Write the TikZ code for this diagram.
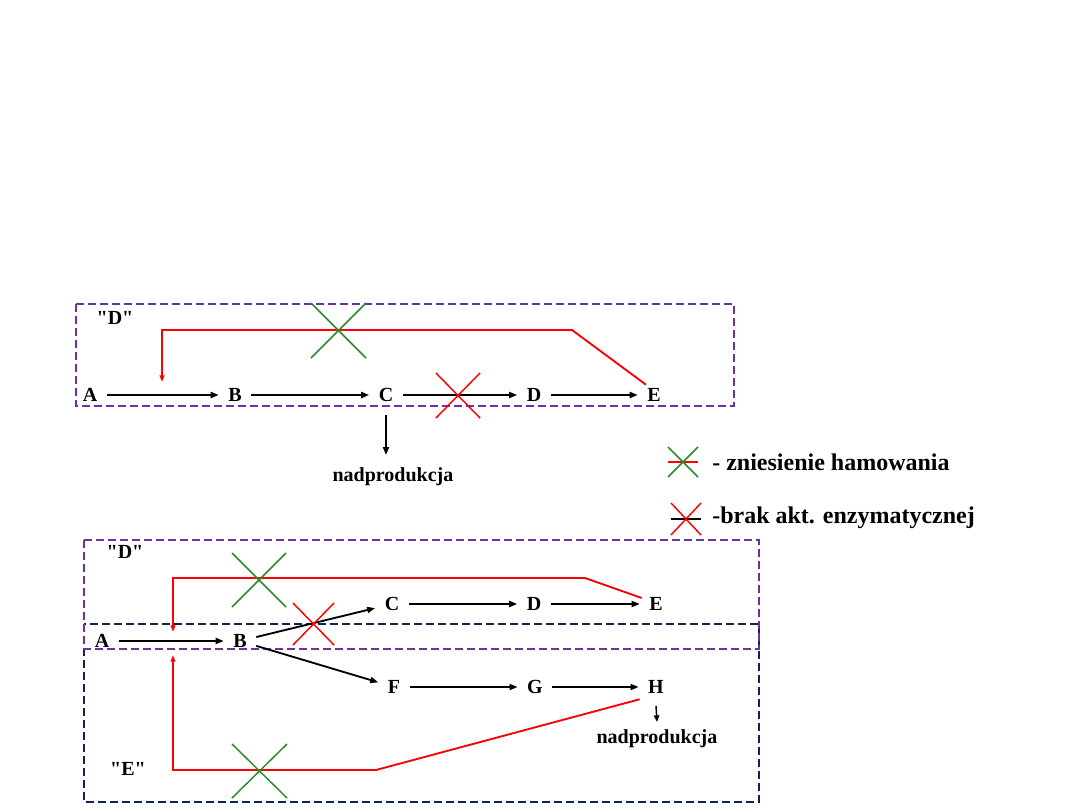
\documentclass[tikz,border=0pt]{standalone}
\usepackage{fontspec}
\setmainfont{Liberation Serif}[Ligatures=TeXOff]
\usetikzlibrary{arrows.meta,calc}
\definecolor{dpurple}{HTML}{7030A0}
\definecolor{dnavy}{HTML}{0F2358}
\definecolor{xgreen}{HTML}{2A8C2A}
\begin{document}
\begin{tikzpicture}[x=0.75pt,y=-0.75pt,
  lab/.style={font=\fontsize{15}{18}\selectfont\bfseries, inner xsep=7pt, inner ysep=1pt, text height=10pt, text depth=0pt},
  txt/.style={font=\fontsize{15}{18}\selectfont\bfseries, inner sep=0pt},
  legtxt/.style={font=\fontsize{18}{21}\selectfont\bfseries, inner sep=0pt, anchor=west},
  arr/.style={line width=1.4pt, -{Triangle[length=6pt,width=4.5pt]}},
  inh/.style={red, line width=1.4pt},
  inharr/.style={inh, -{Triangle[length=5pt,width=3.5pt]}},
  gx/.style={xgreen, line width=1.1pt},
  rx/.style={red, line width=1.1pt},
  boxp/.style={dpurple, dash pattern=on 6pt off 3pt, line width=1.2pt},
  boxn/.style={dnavy, dash pattern=on 6pt off 3pt, line width=1.2pt}]
\fill[white] (0,0) rectangle (1080,810);
\useasboundingbox (0,0) rectangle (1080,810);

% ---------- top diagram ----------
\draw[boxp] (76,304) rectangle (734,406);
\node[txt] (dlab1) at (115,318) {"D"};
\node[lab] (a1) at (90,395) {A};
\node[lab] (b1) at (235,395) {B};
\node[lab] (c1) at (386,395) {C};
\node[lab] (d1) at (534,395) {D};
\node[lab] (e1) at (654,395) {E};
\draw[arr] (a1) -- (b1);
\draw[arr] (b1) -- (c1);
\draw[arr] (c1) -- (d1);
\draw[arr] (d1) -- (e1);
\coordinate (fb1) at (162,382);
\draw[inharr] ($(e1.north)+(-8,-2)$) -- (572,330) -- (162,330) -- (fb1);
\draw[gx] (311,303) -- (366,358) (366,303) -- (311,358);
\draw[rx] (436,373) -- (480,418) (480,373) -- (436,418);
\node[txt] (np1) at (393,477) {nadprodukcja};
\coordinate (cd) at (386,455);
\draw[arr] ([yshift=-9pt]c1.south) -- (cd);

% ---------- legend ----------
\draw[inh, line width=1.2pt] (668,462) -- (698,462);
\draw[gx] (668,447) -- (698,477) (698,447) -- (668,477);
\node[legtxt] (leg1) at (712,462) {- zniesienie hamowania};
\draw[line width=1.2pt] (671,519) -- (701,519);
\draw[rx] (671,503) -- (701,535) (701,503) -- (671,535);
\node[legtxt] (leg2) at (712,518) {-brak akt. enzymatycznej};

% ---------- bottom diagram ----------
\draw[boxn] (84,624) rectangle (759,802);
\draw[boxp] (84,540) rectangle (759,649);
\node[txt] (dlab2) at (125,552) {"D"};
\node[txt] (elab2) at (128,769) {"E"};
\node[lab] (a2) at (102,641) {A};
\node[lab] (b2) at (240,641) {B};
\node[lab] (c2) at (392,604) {C};
\node[lab] (d2) at (534,604) {D};
\node[lab] (e2) at (656,604) {E};
\node[lab] (f2) at (394,687) {F};
\node[lab] (g2) at (535,687) {G};
\node[lab] (h2) at (656,687) {H};
\draw[arr] (a2) -- (b2);
\draw[arr] (b2) -- (c2);
\draw[arr] (b2) -- (f2);
\draw[arr] (c2) -- (d2);
\draw[arr] (d2) -- (e2);
\draw[arr] (f2) -- (g2);
\draw[arr] (g2) -- (h2);
\coordinate (fb2) at (173,632);
\coordinate (fb3) at (173,655);
\draw[inharr] ($(e2.west)+(2,-6)$) -- (585,578) -- (173,578) -- (fb2);
\draw[inharr] ($(h2.south west)+(1,4)$) -- (376,770) -- (173,770) -- (fb3);
\draw[gx] (232,553) -- (286,607) (286,553) -- (232,607);
\draw[rx] (293,603) -- (334,645) (334,603) -- (293,645);
\draw[gx] (232,744) -- (287,798) (287,744) -- (232,798);
\node[txt] (np2) at (657,739) {nadprodukcja};
\coordinate (hd) at (657,722);
\draw[line width=1.1pt, -{Triangle[length=5pt,width=4pt]}] ([yshift=-8pt]h2.south) -- (hd);
\end{tikzpicture}
\end{document}
